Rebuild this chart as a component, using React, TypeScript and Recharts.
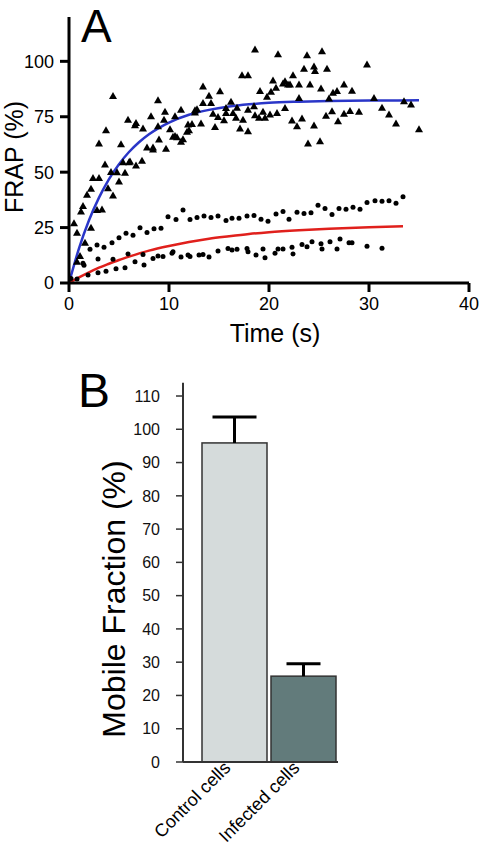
import React from 'react';
import { ComposedChart, Scatter, Line, XAxis, YAxis, BarChart, Bar } from 'recharts';

const FONT = '"Liberation Sans", Arial, Helvetica, sans-serif';

// ---- panel A: FRAP recovery, [time (s), recovery (%)] ----
const controlPts = [
  [0.5, 26.9], [0.8, 22.7], [2.2, 24.9], [1.6, 18.2], [1.1, 12.2], [0.8, 9.6], [1.2, 32.2], [1.4, 34.7],
  [2.8, 32.9], [3.3, 33.2], [2.2, 42.5], [1.8, 39.8], [3.9, 42.7], [5.0, 45.8], [4.4, 39.5], [4.2, 50.1],
  [4.4, 84.4], [3.7, 68.9], [3.0, 62.9], [3.6, 53.5], [2.4, 47.4], [3.0, 47.4], [5.2, 62.6], [5.4, 54.5],
  [6.0, 54.5], [6.1, 54.8], [6.7, 53.0], [7.3, 55.1], [4.8, 50.0], [5.6, 49.7], [5.9, 73.7], [6.6, 71.2],
  [6.7, 72.2], [7.4, 69.7], [8.2, 75.2], [8.9, 82.4], [8.9, 70.7], [9.0, 64.7], [7.8, 61.1], [8.4, 61.1],
  [8.4, 60.2], [9.7, 60.6], [9.6, 77.2], [9.5, 73.7], [10.1, 69.4], [10.4, 66.0], [10.6, 66.3], [10.8, 65.8],
  [11.2, 63.7], [11.4, 64.8], [11.2, 78.2], [10.6, 75.2], [11.8, 68.2], [12.0, 68.9], [11.9, 71.5], [12.3, 71.7],
  [12.6, 77.9], [12.6, 76.9], [12.8, 78.4], [13.2, 71.9], [13.4, 88.7], [14.0, 84.5], [13.4, 81.2], [14.2, 81.2],
  [14.4, 76.4], [14.6, 70.4], [14.9, 74.9], [15.1, 86.5], [15.5, 73.4], [15.7, 76.7], [15.7, 78.9], [16.2, 81.8],
  [16.4, 76.7], [16.8, 79.1], [16.7, 74.6], [17.1, 69.7], [17.4, 73.7], [17.3, 93.7], [17.9, 93.7], [17.9, 68.5],
  [17.9, 78.2], [18.6, 105.3], [18.5, 79.7], [18.6, 75.7], [19.1, 86.6], [20.9, 103.2], [23.8, 102.7], [25.3, 104.5],
  [29.8, 98.6], [23.5, 96.7], [24.5, 97.7], [24.6, 95.6], [25.8, 96.7], [22.4, 93.7], [20.4, 91.4], [21.4, 90.0],
  [21.6, 91.0], [21.9, 89.6], [22.1, 89.6], [20.7, 88.1], [20.2, 86.3], [19.8, 84.0], [23.0, 89.5], [24.1, 89.6],
  [25.2, 87.7], [26.4, 85.8], [26.8, 86.6], [27.5, 89.6], [28.3, 86.7], [23.0, 83.5], [26.0, 83.2], [30.5, 83.5],
  [33.5, 82.0], [34.2, 80.5], [19.0, 74.6], [19.4, 77.2], [19.6, 74.6], [20.1, 76.0], [20.8, 76.7], [21.6, 79.0],
  [22.3, 73.3], [22.8, 70.7], [23.3, 74.2], [23.9, 62.9], [25.1, 64.0], [24.5, 71.0], [25.7, 75.4], [26.3, 77.5],
  [26.9, 73.0], [27.5, 76.4], [28.1, 77.6], [29.0, 77.2], [31.3, 79.1], [32.0, 76.0], [32.7, 71.9], [35.0, 69.4],
];

const infectedPts = [
  [0.2, 2.0], [0.8, 1.8], [1.4, 8.9], [1.5, 8.0], [1.9, 3.6], [2.9, 4.6], [2.9, 10.8], [3.7, 5.3],
  [4.4, 10.7], [4.7, 6.4], [5.6, 6.9], [5.9, 13.1], [6.6, 9.6], [7.4, 12.9], [7.5, 8.1], [8.4, 11.1],
  [8.9, 12.2], [9.4, 11.9], [10.3, 13.4], [10.4, 14.1], [11.2, 11.7], [11.9, 12.6], [12.1, 11.9], [13.0, 12.6],
  [13.4, 12.9], [14.0, 11.7], [14.9, 14.4], [15.9, 15.6], [16.3, 14.9], [16.8, 15.2], [17.8, 15.6], [17.9, 14.1],
  [18.7, 12.6], [19.4, 15.3], [19.6, 11.4], [20.6, 13.4], [20.9, 15.3], [21.4, 15.3], [22.3, 16.1], [22.4, 13.1],
  [23.3, 17.4], [23.8, 16.4], [24.3, 18.6], [25.2, 17.7], [25.3, 15.3], [26.1, 18.6], [26.8, 15.3], [27.1, 19.8],
  [28.0, 18.2], [28.3, 18.2], [29.8, 16.6], [31.3, 15.7],
  [2.1, 15.2], [2.8, 17.1], [3.5, 16.1], [4.3, 18.2], [5.0, 20.4], [5.7, 22.4], [6.4, 21.5], [7.1, 24.9],
  [7.8, 22.8], [8.5, 24.5], [9.2, 24.7], [9.9, 29.9], [10.7, 28.7], [11.4, 32.9], [12.1, 28.7], [12.8, 29.5],
  [13.5, 30.2], [14.2, 29.5], [14.9, 30.2], [15.7, 28.2], [16.3, 29.2], [17.0, 29.2], [17.8, 30.2], [18.5, 30.5],
  [19.2, 28.8], [19.9, 27.9], [20.7, 31.1], [21.4, 32.2], [22.0, 28.8], [22.8, 31.9], [23.5, 31.3], [24.2, 31.7],
  [24.9, 35.1], [25.6, 33.6], [26.3, 30.9], [27.0, 33.6], [27.7, 33.3], [28.4, 34.2], [29.1, 33.3], [29.8, 36.3],
  [30.6, 37.1], [31.3, 36.9], [32.0, 37.1], [32.7, 36.0], [33.4, 38.9],
];

// fitted recovery curves
const blueFitT = [0, 1, 2, 3, 4, 5, 6, 7, 8, 9, 10, 12, 14, 16, 18, 20, 23, 26, 30, 35];
const blueFitV = [0, 15.6, 28.3, 38.5, 46.9, 53.6, 59.1, 63.5, 67.1, 70.0, 72.4, 75.9, 78.1, 79.6, 80.6, 81.3, 81.8, 82.1, 82.3, 82.4];
const redFitT = [0, 1, 2, 3, 4, 5, 6, 8, 10, 12, 14, 16, 18, 20, 23, 26, 30, 33.4];
const redFitV = [0, 2.5, 4.8, 6.9, 8.7, 10.4, 11.9, 14.6, 16.7, 18.5, 20.0, 21.1, 22.1, 22.9, 23.8, 24.5, 25.2, 25.6];

const timeTicks = [0, 10, 20, 30, 40];
const frapTicks = [0, 25, 50, 75, 100];

// ---- panel B: mobile fraction ----
const cellTypes = ['Control cells', 'Infected cells'];
const mobileFraction = [95.9, 25.8];
const mobileErr = [7.8, 3.7];
const mobileTicks = [0, 10, 20, 30, 40, 50, 60, 70, 80, 90, 100, 110];

const BAR_FILL = ['#d5dbdb', '#627b7b'];
const CAP_HALF = [22, 17];

const controlData = controlPts.map(([t, v]) => ({ t, v }));
const infectedData = infectedPts.map(([t, v]) => ({ t, v }));
const blueData = blueFitT.map((t, i) => ({ t, v: blueFitV[i] }));
const redData = redFitT.map((t, i) => ({ t, v: redFitV[i] }));
const barData = cellTypes.map((name, i) => ({ name, value: mobileFraction[i], err: mobileErr[i] }));

const Triangle = (p: any) => (
  <polygon points={`${p.cx},${p.cy - 4} ${p.cx - 4},${p.cy + 3} ${p.cx + 4},${p.cy + 3}`} fill="#000" />
);
const Dot = (p: any) => <circle cx={p.cx} cy={p.cy} r={2.5} fill="#000" />;

const AxisTitle = ({ tx, ty, text, size, vertical }: any) => (
  <text
    x={tx}
    y={ty}
    textAnchor="middle"
    fontSize={size}
    fontFamily={FONT}
    fill="#000"
    transform={vertical ? `rotate(-90, ${tx}, ${ty})` : undefined}
  >
    {text}
  </text>
);

const BarWithError = (p: any) => {
  const { x, y, width, height, index, payload } = p;
  const perUnit = height / payload.value;
  const top = y - payload.err * perUnit;
  const cx = x + width / 2;
  const half = CAP_HALF[index];
  return (
    <g>
      <rect x={x} y={y} width={width} height={height} fill={BAR_FILL[index]} stroke="#333" strokeWidth={1.5} />
      <line x1={cx} y1={y} x2={cx} y2={top} stroke="#000" strokeWidth={3} />
      <line x1={cx - half} y1={top} x2={cx + half} y2={top} stroke="#000" strokeWidth={3} />
    </g>
  );
};

const CellTick = ({ x, y, payload }: any) => (
  <g transform={`translate(${x - 3},${y + 1})`}>
    <text textAnchor="end" transform="rotate(-45)" fontSize={18} fontFamily={FONT} fill="#000">
      {payload.value}
    </text>
  </g>
);

export default function App() {
  return (
    <div style={{ position: 'absolute', left: 0, top: 0, width: 480, height: 850, background: '#fff', fontFamily: FONT }}>
      <div style={{ position: 'absolute', left: 0, top: 0 }}>
        <ComposedChart width={480} height={352} margin={{ top: 17, right: 11, bottom: 0, left: 0 }}>
          <XAxis
            dataKey="t"
            type="number"
            domain={[0, 40]}
            ticks={timeTicks}
            allowDataOverflow
            height={69}
            tickSize={9}
            tickMargin={5}
            axisLine={{ stroke: '#000', strokeWidth: 3 }}
            tickLine={{ stroke: '#000', strokeWidth: 3 }}
            tick={{ fontSize: 18, fill: '#000', fontFamily: FONT }}
            label={<AxisTitle tx={275} ty={342} text="Time (s)" size={25} />}
          />
          <YAxis
            dataKey="v"
            type="number"
            domain={[0, 120]}
            ticks={frapTicks}
            allowDataOverflow
            width={69}
            tickSize={9}
            tickMargin={6}
            axisLine={{ stroke: '#000', strokeWidth: 3 }}
            tickLine={{ stroke: '#000', strokeWidth: 3 }}
            tick={{ fontSize: 18, fill: '#000', fontFamily: FONT }}
            label={<AxisTitle tx={23} ty={157} text="FRAP (%)" size={25} vertical />}
          />
          <Scatter data={controlData} dataKey="v" shape={Triangle} isAnimationActive={false} />
          <Scatter data={infectedData} dataKey="v" shape={Dot} isAnimationActive={false} />
          <Line data={blueData} dataKey="v" type="monotone" stroke="#2a36c8" strokeWidth={2.5} dot={false} activeDot={false} isAnimationActive={false} />
          <Line data={redData} dataKey="v" type="monotone" stroke="#e0201c" strokeWidth={2.5} dot={false} activeDot={false} isAnimationActive={false} />
        </ComposedChart>
      </div>

      <div style={{ position: 'absolute', left: 0, top: 352 }}>
        <BarChart width={480} height={498} data={barData} margin={{ top: 30.7, right: 142, bottom: 0, left: 0 }}>
          <XAxis
            dataKey="name"
            interval={0}
            padding={{ left: 17, right: 0 }}
            height={88}
            tickSize={6}
            tickMargin={0}
            tickLine={false}
            axisLine={{ stroke: '#333', strokeWidth: 2 }}
            tick={<CellTick />}
          />
          <YAxis
            type="number"
            domain={[0, 114]}
            ticks={mobileTicks}
            allowDataOverflow
            width={183}
            tickSize={7}
            tickMargin={16}
            axisLine={{ stroke: '#333', strokeWidth: 2 }}
            tickLine={{ stroke: '#333', strokeWidth: 1.5 }}
            tick={{ fontSize: 16, fill: '#111', fontFamily: FONT }}
            label={<AxisTitle tx={125} ty={247} text="Mobile Fraction (%)" size={32} vertical />}
          />
          <Bar dataKey="value" barSize={65} shape={BarWithError} isAnimationActive={false} />
        </BarChart>
      </div>

      {/* panel letters */}
      <svg width={480} height={850} style={{ position: 'absolute', left: 0, top: 0, pointerEvents: 'none' }}>
        <text x={81} y={42} fontSize={46} fontFamily={FONT} fill="#000">A</text>
        <text x={78} y={407} fontSize={48} fontFamily={FONT} fill="#000">B</text>
      </svg>
    </div>
  );
}
